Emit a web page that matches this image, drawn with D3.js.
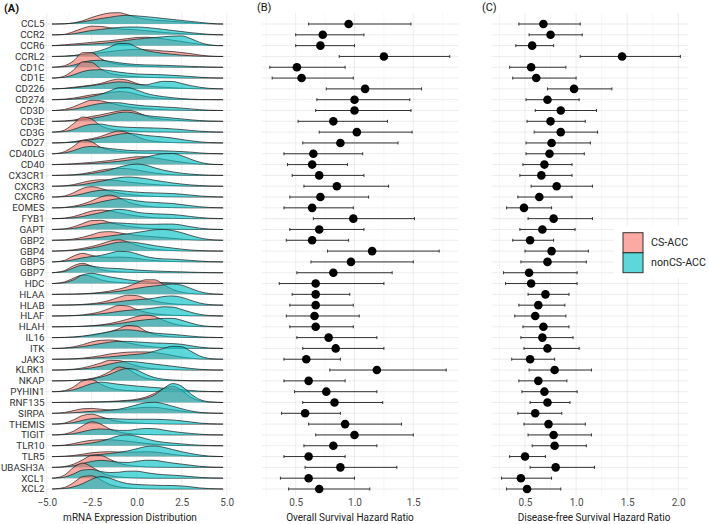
<!DOCTYPE html>
<html><head><meta charset="utf-8">
<script src="https://cdn.jsdelivr.net/npm/d3@7"></script>
<style>body{margin:0;background:#fff}svg{display:block}text{font-family:Roboto,"Liberation Sans",Arial,sans-serif}</style>
</head><body><svg id="chart" width="709" height="524"></svg>
<script>
const genes = ["CCL5","CCR2","CCR6","CCRL2","CD1C","CD1E","CD226","CD274","CD3D","CD3E","CD3G","CD27","CD40LG","CD40","CX3CR1","CXCR3","CXCR6","EOMES","FYB1","GAPT","GBP2","GBP4","GBP5","GBP7","HDC","HLAA","HLAB","HLAF","HLAH","IL16","ITK","JAK3","KLRK1","NKAP","PYHIN1","RNF135","SIRPA","THEMIS","TIGIT","TLR10","TLR5","UBASH3A","XCL1","XCL2"];
const groups = ["CS-ACC","nonCS-ACC"];
const groupColors = ["#F8766D","#00BFC4"];

const osHR   = [0.95,0.73,0.71,1.25,0.51,0.55,1.09,1.00,1.00,0.82,1.02,0.88,0.65,0.64,0.70,0.85,0.71,0.64,0.99,0.70,0.64,1.15,0.97,0.82,0.67,0.67,0.67,0.66,0.67,0.78,0.84,0.59,1.19,0.61,0.76,0.83,0.58,0.92,1.00,0.82,0.61,0.88,0.61,0.70];
const osLow  = [0.61,0.50,0.50,0.87,0.28,0.30,0.76,0.68,0.67,0.52,0.70,0.56,0.40,0.43,0.47,0.57,0.45,0.40,0.65,0.45,0.42,0.77,0.63,0.51,0.36,0.47,0.45,0.42,0.45,0.51,0.56,0.40,0.79,0.40,0.49,0.56,0.38,0.61,0.67,0.57,0.40,0.58,0.37,0.44];
const osHigh = [1.48,1.08,1.00,1.81,0.92,0.99,1.57,1.47,1.48,1.28,1.49,1.37,1.07,0.94,1.08,1.29,1.12,0.99,1.51,1.08,0.95,1.72,1.50,1.32,1.25,0.96,0.99,1.04,0.99,1.19,1.25,0.88,1.78,0.92,1.19,1.24,0.88,1.40,1.50,1.19,0.92,1.36,1.00,1.13];
const dfsHR   = [0.68,0.75,0.57,1.45,0.56,0.61,0.98,0.72,0.85,0.75,0.85,0.76,0.74,0.69,0.66,0.81,0.64,0.49,0.78,0.67,0.55,0.76,0.72,0.54,0.56,0.70,0.63,0.60,0.68,0.67,0.72,0.55,0.79,0.63,0.69,0.72,0.60,0.73,0.78,0.79,0.50,0.80,0.46,0.52];
const dfsLow  = [0.44,0.54,0.41,1.04,0.35,0.38,0.72,0.51,0.60,0.52,0.59,0.51,0.51,0.48,0.45,0.56,0.43,0.32,0.53,0.45,0.38,0.50,0.46,0.29,0.31,0.53,0.44,0.40,0.48,0.46,0.49,0.37,0.54,0.44,0.47,0.55,0.43,0.49,0.53,0.57,0.35,0.55,0.27,0.32];
const dfsHigh = [1.04,1.06,0.78,2.02,0.90,1.00,1.35,1.03,1.20,1.09,1.21,1.14,1.08,0.96,0.96,1.16,0.96,0.76,1.16,0.99,0.78,1.12,1.10,1.01,1.01,0.93,0.89,0.90,0.93,0.97,1.03,0.79,1.15,0.91,1.01,0.94,0.86,1.09,1.15,1.10,0.70,1.18,0.76,0.85];

const ridgeX = [-4.7,-4.5,-4,-3.5,-3,-2.5,-2,-1.5,-1,-0.5,0,0.5,1,1.5,2,2.5,3,3.5,4,4.5,4.8];
const csDensity = [
[0,0,0.02,0.1,0.3,0.6,0.85,1.02,1.05,0.85,0.6,0.45,0.35,0.3,0.25,0.18,0.12,0.06,0.02,0,0],
[0,0,0.05,0.3,0.6,0.8,0.78,0.65,0.55,0.5,0.45,0.38,0.3,0.22,0.15,0.1,0.06,0.03,0.01,0,0],
[0,0.02,0.08,0.15,0.22,0.3,0.38,0.45,0.55,0.65,0.75,0.78,0.72,0.62,0.5,0.38,0.25,0.12,0.04,0,0],
[0,0,0.02,0.08,0.15,0.25,0.35,0.45,0.55,0.62,0.65,0.62,0.58,0.5,0.45,0.36,0.26,0.13,0.04,0,0],
[0,0.02,0.15,0.6,1.35,1.35,0.8,0.45,0.3,0.2,0.12,0.08,0.05,0.03,0.02,0.01,0,0,0,0,0],
[0,0.02,0.2,0.75,1.5,1.45,0.85,0.45,0.28,0.18,0.12,0.08,0.05,0.03,0.02,0.01,0,0,0,0,0],
[0,0.01,0.05,0.15,0.25,0.35,0.5,0.75,0.9,0.8,0.5,0.3,0.2,0.15,0.1,0.06,0.03,0.01,0,0,0],
[0,0.01,0.05,0.15,0.3,0.45,0.55,0.65,0.75,0.7,0.5,0.3,0.18,0.1,0.06,0.03,0.01,0,0,0,0],
[0,0.01,0.1,0.35,0.7,0.95,0.9,0.7,0.5,0.35,0.25,0.18,0.12,0.08,0.05,0.03,0.01,0,0,0,0],
[0,0,0.03,0.12,0.28,0.45,0.6,0.78,0.95,1.02,0.85,0.5,0.3,0.2,0.12,0.07,0.03,0.01,0,0,0],
[0,0.02,0.2,0.8,1.4,1.2,0.6,0.3,0.18,0.12,0.08,0.05,0.03,0.02,0.01,0,0,0,0,0,0],
[0,0.01,0.04,0.12,0.25,0.4,0.6,0.9,1.1,0.95,0.6,0.3,0.15,0.08,0.04,0.02,0.01,0,0,0,0],
[0,0.02,0.2,0.7,1.25,1.1,0.6,0.35,0.22,0.15,0.1,0.07,0.05,0.03,0.02,0.01,0,0,0,0,0],
[0,0.01,0.04,0.08,0.14,0.2,0.28,0.38,0.5,0.62,0.72,0.72,0.62,0.48,0.35,0.22,0.12,0.05,0.02,0,0],
[0,0,0.02,0.06,0.15,0.3,0.48,0.6,0.65,0.62,0.5,0.35,0.22,0.12,0.06,0.03,0.01,0,0,0,0],
[0,0,0.04,0.15,0.35,0.52,0.6,0.58,0.5,0.4,0.3,0.22,0.15,0.1,0.06,0.03,0.01,0,0,0,0],
[0,0.01,0.1,0.4,0.8,0.95,0.8,0.55,0.38,0.25,0.16,0.1,0.06,0.03,0.02,0.01,0,0,0,0,0],
[0,0,0.04,0.15,0.35,0.65,1.0,1.18,0.95,0.55,0.3,0.16,0.08,0.04,0.02,0.01,0,0,0,0,0],
[0,0.01,0.05,0.2,0.45,0.7,0.8,0.72,0.55,0.38,0.25,0.15,0.09,0.05,0.03,0.01,0,0,0,0,0],
[0,0.01,0.06,0.25,0.55,0.82,0.85,0.65,0.45,0.3,0.2,0.12,0.07,0.04,0.02,0.01,0,0,0,0,0],
[0,0.01,0.04,0.12,0.28,0.5,0.75,0.8,0.7,0.55,0.45,0.38,0.32,0.25,0.18,0.1,0.05,0.02,0.01,0,0],
[0,0.01,0.04,0.12,0.25,0.42,0.65,0.92,1.05,0.85,0.55,0.32,0.18,0.1,0.05,0.02,0.01,0,0,0,0],
[0,0.02,0.15,0.55,0.79,0.6,0.45,0.42,0.45,0.42,0.32,0.2,0.12,0.07,0.04,0.02,0.01,0,0,0,0],
[0,0.03,0.2,0.65,0.87,0.6,0.3,0.15,0.08,0.05,0.03,0.02,0.01,0,0,0,0,0,0,0,0],
[0,0.02,0.15,0.5,0.78,0.65,0.35,0.18,0.1,0.05,0.03,0.01,0,0,0,0,0,0,0,0,0],
[0,0,0.01,0.02,0.05,0.1,0.18,0.3,0.48,0.72,1.05,1.35,1.35,0.9,0.45,0.2,0.08,0.03,0.01,0,0],
[0,0,0.01,0.03,0.07,0.14,0.25,0.45,0.72,0.92,0.88,0.62,0.38,0.22,0.12,0.06,0.03,0.01,0,0,0],
[0,0,0.01,0.04,0.1,0.22,0.4,0.7,0.98,0.92,0.6,0.35,0.2,0.12,0.07,0.04,0.02,0.01,0,0,0],
[0,0,0.01,0.02,0.05,0.1,0.18,0.3,0.48,0.7,0.95,1.08,0.95,0.6,0.3,0.12,0.05,0.02,0.01,0,0],
[0,0,0.01,0.04,0.1,0.2,0.35,0.55,0.82,1.12,1.05,0.6,0.3,0.14,0.07,0.03,0.01,0,0,0,0],
[0,0,0.04,0.15,0.35,0.6,0.75,0.78,0.7,0.52,0.35,0.22,0.13,0.07,0.04,0.02,0.01,0,0,0,0],
[0,0,0.01,0.04,0.1,0.2,0.32,0.48,0.58,0.65,0.68,0.68,0.62,0.5,0.35,0.2,0.09,0.03,0.01,0,0],
[0,0,0.02,0.08,0.2,0.4,0.65,0.9,0.88,0.65,0.4,0.22,0.12,0.06,0.03,0.01,0,0,0,0,0],
[0,0,0.01,0.04,0.1,0.22,0.45,0.85,1.28,1.1,0.6,0.25,0.1,0.04,0.02,0.01,0,0,0,0,0],
[0,0.01,0.1,0.45,1.0,1.12,0.7,0.35,0.18,0.1,0.06,0.03,0.02,0.01,0,0,0,0,0,0,0],
[0,0,0.01,0.02,0.03,0.05,0.07,0.1,0.14,0.2,0.3,0.5,0.85,1.3,1.5,1.1,0.5,0.15,0.04,0.01,0],
[0,0.01,0.08,0.25,0.42,0.45,0.38,0.32,0.32,0.38,0.48,0.55,0.55,0.45,0.32,0.2,0.1,0.04,0.01,0,0],
[0,0.01,0.1,0.4,0.8,0.92,0.7,0.42,0.25,0.15,0.1,0.06,0.04,0.02,0.01,0,0,0,0,0,0],
[0,0.01,0.08,0.35,0.85,1.22,1.0,0.55,0.28,0.14,0.07,0.04,0.02,0.01,0,0,0,0,0,0,0],
[0,0.01,0.06,0.2,0.38,0.5,0.55,0.55,0.5,0.42,0.32,0.22,0.14,0.08,0.04,0.02,0.01,0,0,0,0],
[0,0,0.03,0.1,0.22,0.35,0.42,0.45,0.42,0.4,0.42,0.45,0.42,0.32,0.2,0.1,0.04,0.01,0,0,0],
[0,0.01,0.08,0.3,0.7,1.1,1.1,0.75,0.4,0.2,0.1,0.05,0.02,0.01,0,0,0,0,0,0,0],
[0,0.03,0.3,1.0,1.4,1.05,0.55,0.25,0.12,0.06,0.03,0.01,0,0,0,0,0,0,0,0,0],
[0,0.02,0.15,0.6,1.15,1.22,0.85,0.42,0.2,0.1,0.05,0.02,0.01,0,0,0,0,0,0,0,0]
];
const nonCsDensity = [
[0,0,0.02,0.08,0.2,0.35,0.5,0.62,0.75,0.8,0.75,0.68,0.6,0.5,0.42,0.33,0.24,0.15,0.07,0.01,0],
[0,0,0.02,0.1,0.25,0.4,0.5,0.6,0.68,0.72,0.72,0.68,0.6,0.5,0.4,0.3,0.2,0.12,0.05,0.01,0],
[0,0,0.02,0.05,0.1,0.15,0.2,0.28,0.38,0.5,0.6,0.68,0.75,0.82,0.88,0.9,0.65,0.3,0.08,0.01,0],
[0,0,0.02,0.08,0.2,0.35,0.55,0.85,1.2,1.2,0.85,0.55,0.4,0.28,0.2,0.12,0.07,0.03,0.01,0,0],
[0,0.01,0.05,0.2,0.45,0.62,0.65,0.55,0.42,0.32,0.25,0.22,0.2,0.18,0.15,0.12,0.08,0.05,0.02,0,0],
[0,0.01,0.08,0.3,0.6,0.75,0.78,0.68,0.55,0.45,0.38,0.35,0.33,0.3,0.25,0.2,0.14,0.08,0.03,0.01,0],
[0,0.01,0.04,0.1,0.2,0.3,0.42,0.55,0.65,0.6,0.42,0.38,0.55,0.7,0.68,0.5,0.3,0.15,0.05,0.01,0],
[0,0,0.02,0.06,0.15,0.3,0.5,0.8,1.1,1.12,0.9,0.6,0.4,0.28,0.18,0.1,0.05,0.02,0.01,0,0],
[0,0,0.03,0.12,0.3,0.5,0.65,0.72,0.72,0.6,0.5,0.42,0.38,0.32,0.28,0.22,0.15,0.08,0.03,0.01,0],
[0,0,0.02,0.06,0.15,0.28,0.42,0.6,0.8,0.85,0.72,0.55,0.45,0.38,0.3,0.22,0.14,0.07,0.03,0.01,0],
[0,0.01,0.06,0.25,0.55,0.72,0.75,0.6,0.5,0.45,0.42,0.4,0.38,0.35,0.3,0.24,0.16,0.09,0.04,0.01,0],
[0,0,0.02,0.08,0.18,0.3,0.45,0.62,0.8,0.88,0.82,0.7,0.62,0.55,0.45,0.32,0.2,0.1,0.04,0.01,0],
[0,0.01,0.08,0.3,0.58,0.68,0.6,0.48,0.4,0.32,0.28,0.27,0.28,0.27,0.24,0.2,0.15,0.08,0.03,0.01,0],
[0,0,0.01,0.03,0.06,0.1,0.15,0.22,0.3,0.4,0.52,0.68,0.88,1.0,1.02,0.82,0.5,0.22,0.06,0.01,0],
[0,0,0.01,0.03,0.08,0.18,0.32,0.5,0.75,0.95,1.05,0.95,0.7,0.48,0.32,0.2,0.12,0.06,0.02,0,0],
[0,0,0.02,0.06,0.15,0.3,0.45,0.62,0.78,0.85,0.8,0.7,0.55,0.42,0.3,0.2,0.12,0.06,0.02,0,0],
[0,0,0.03,0.12,0.3,0.5,0.62,0.65,0.6,0.52,0.45,0.4,0.38,0.35,0.32,0.26,0.18,0.1,0.04,0.01,0],
[0,0,0.02,0.08,0.2,0.35,0.55,0.72,0.85,0.8,0.65,0.55,0.5,0.45,0.4,0.3,0.2,0.1,0.04,0.01,0],
[0,0,0.02,0.08,0.2,0.38,0.55,0.75,0.86,0.78,0.6,0.5,0.45,0.42,0.38,0.3,0.2,0.1,0.04,0.01,0],
[0,0,0.03,0.1,0.25,0.42,0.55,0.62,0.6,0.55,0.5,0.48,0.48,0.5,0.5,0.4,0.25,0.12,0.04,0.01,0],
[0,0,0.01,0.04,0.1,0.18,0.28,0.4,0.5,0.6,0.72,0.85,0.97,1.0,0.9,0.7,0.45,0.22,0.08,0.02,0],
[0,0,0.02,0.06,0.15,0.28,0.45,0.65,0.82,0.85,0.78,0.65,0.5,0.38,0.28,0.18,0.1,0.05,0.02,0,0],
[0,0.01,0.06,0.2,0.38,0.5,0.6,0.8,0.98,0.95,0.75,0.5,0.35,0.28,0.25,0.2,0.14,0.08,0.03,0.01,0],
[0,0.02,0.12,0.45,0.7,0.62,0.48,0.42,0.38,0.32,0.25,0.2,0.16,0.13,0.1,0.08,0.05,0.03,0.01,0,0],
[0,0.01,0.08,0.35,0.8,0.94,0.8,0.62,0.48,0.35,0.25,0.17,0.12,0.09,0.06,0.04,0.02,0.01,0,0,0],
[0,0,0.01,0.02,0.04,0.07,0.12,0.18,0.28,0.4,0.55,0.68,0.78,0.88,0.95,0.85,0.55,0.25,0.08,0.02,0],
[0,0,0.01,0.02,0.04,0.08,0.14,0.22,0.32,0.42,0.5,0.55,0.65,0.8,0.85,0.72,0.45,0.2,0.06,0.01,0],
[0,0,0.01,0.03,0.06,0.12,0.2,0.3,0.42,0.52,0.58,0.65,0.75,0.85,0.82,0.6,0.35,0.15,0.05,0.01,0],
[0,0,0.01,0.02,0.04,0.08,0.13,0.2,0.3,0.42,0.55,0.65,0.72,0.78,0.78,0.6,0.35,0.14,0.04,0.01,0],
[0,0,0.02,0.06,0.14,0.26,0.4,0.55,0.68,0.72,0.65,0.52,0.42,0.35,0.3,0.22,0.14,0.07,0.03,0.01,0],
[0,0,0.02,0.07,0.17,0.3,0.45,0.58,0.65,0.65,0.6,0.55,0.5,0.48,0.45,0.38,0.25,0.12,0.04,0.01,0],
[0,0,0.01,0.02,0.05,0.09,0.15,0.22,0.3,0.38,0.45,0.55,0.75,1.0,1.2,1.15,0.75,0.3,0.08,0.01,0],
[0,0,0.01,0.04,0.1,0.2,0.35,0.55,0.72,0.8,0.75,0.65,0.55,0.45,0.35,0.25,0.15,0.07,0.02,0,0],
[0,0,0.01,0.03,0.08,0.18,0.35,0.6,0.95,1.15,1.0,0.6,0.3,0.15,0.08,0.04,0.02,0.01,0,0,0],
[0,0,0.04,0.18,0.45,0.75,0.88,0.8,0.68,0.6,0.52,0.45,0.38,0.32,0.25,0.18,0.11,0.05,0.02,0,0],
[0,0,0.01,0.01,0.02,0.03,0.05,0.07,0.1,0.15,0.22,0.38,0.7,1.3,1.75,1.5,0.8,0.28,0.07,0.01,0],
[0,0,0.02,0.06,0.12,0.18,0.22,0.28,0.38,0.55,0.78,0.98,1.02,0.88,0.65,0.42,0.22,0.09,0.03,0.01,0],
[0,0,0.04,0.15,0.35,0.5,0.55,0.52,0.48,0.45,0.45,0.45,0.45,0.42,0.38,0.3,0.2,0.1,0.04,0.01,0],
[0,0,0.03,0.12,0.3,0.48,0.55,0.5,0.42,0.42,0.52,0.6,0.58,0.45,0.32,0.22,0.14,0.07,0.02,0,0],
[0,0,0.02,0.06,0.14,0.26,0.42,0.65,0.92,1.0,0.88,0.65,0.45,0.32,0.24,0.17,0.1,0.05,0.02,0,0],
[0,0,0.01,0.04,0.08,0.14,0.2,0.28,0.38,0.52,0.72,0.92,0.98,0.85,0.65,0.45,0.28,0.14,0.05,0.01,0],
[0,0,0.04,0.15,0.35,0.55,0.65,0.58,0.48,0.45,0.55,0.66,0.65,0.52,0.4,0.3,0.2,0.1,0.04,0.01,0],
[0,0.01,0.1,0.4,0.75,0.8,0.62,0.52,0.55,0.65,0.65,0.52,0.4,0.32,0.28,0.22,0.15,0.08,0.03,0.01,0],
[0,0.01,0.05,0.2,0.5,0.9,1.15,1.0,0.7,0.5,0.42,0.38,0.35,0.33,0.32,0.28,0.2,0.1,0.04,0.01,0]
];
const ticksA = [-5,-2.5,0,2.5,5], minorA = [-3.75,-1.25,1.25,3.75];
const ticksB = [0.5,1,1.5], minorB = [0.25,0.75,1.25,1.75];
const ticksC = [0.5,1,1.5,2], minorC = [0.25,0.75,1.25,1.75];

const svg = d3.select("#chart");
const plotTop = 13, plotBottom = 496;
const y = d3.scalePoint().domain(genes).range([24, 489]);
const step = y.step();
const xA = d3.scaleLinear().domain([-5,5]).range([46.7,226.7]);
const xB = d3.scaleLinear().domain([0.5,1.5]).range([295.7,413.3]);
const xC = d3.scaleLinear().domain([0.5,2]).range([525,678.3]);
const hS = d3.scaleLinear().domain([0,1]).range([0,step]);

function grid(x, x0, x1, major, minor) {
  const g = svg.append("g");
  g.selectAll(".mi").data(minor.filter(v => x(v) > x0 && x(v) < x1)).join("line")
    .attr("x1", d=>x(d)).attr("x2", d=>x(d)).attr("y1", plotTop).attr("y2", plotBottom)
    .attr("stroke", "#f1f1f1").attr("stroke-width", 0.6);
  g.selectAll(".hz").data(genes).join("line")
    .attr("x1", x0).attr("x2", x1).attr("y1", d=>y(d)).attr("y2", d=>y(d))
    .attr("stroke", "#e8e8e8").attr("stroke-width", 0.8);
  g.selectAll(".ma").data(major).join("line")
    .attr("x1", d=>x(d)).attr("x2", d=>x(d)).attr("y1", plotTop).attr("y2", plotBottom)
    .attr("stroke", "#e8e8e8").attr("stroke-width", 0.8);
}
grid(xA, 44, 231, ticksA, minorA);
grid(xB, 262, 458.3, ticksB, minorB);
grid(xC, 491.7, 688.3, ticksC, minorC);

// Panel A ridges
const ridges = svg.append("g");
genes.forEach((gname, i) => {
  const base = y(gname);
  [csDensity[i], nonCsDensity[i]].forEach((dens, k) => {
    const area = d3.area().x((d,j)=>xA(ridgeX[j])).y0(base).y1(d=>base - hS(d)).curve(d3.curveMonotoneX);
    const line = d3.line().x((d,j)=>xA(ridgeX[j])).y(d=>base - hS(d)).curve(d3.curveMonotoneX);
    ridges.append("path").attr("d", area(dens)).attr("fill", groupColors[k]).attr("fill-opacity", 0.63);
    ridges.append("path").attr("d", line(dens)).attr("fill", "none").attr("stroke", "#1a1a1a").attr("stroke-width", 0.7);
  });
});

// gene labels
svg.append("g").selectAll("text").data(genes).join("text")
  .attr("x", 44.5).attr("y", d=>y(d)).attr("dy", "0.35em").attr("text-anchor","end")
  .attr("font-size", 9.8).attr("fill", "#333").text(d=>d);

// forest panels
function forest(x, hr, lo, hi) {
  const g = svg.append("g");
  genes.forEach((gname, i) => {
    const yy = y(gname);
    g.append("line").attr("x1", x(lo[i])).attr("x2", x(hi[i])).attr("y1", yy).attr("y2", yy).attr("stroke", "#333").attr("stroke-width", 1);
    g.append("line").attr("x1", x(lo[i])).attr("x2", x(lo[i])).attr("y1", yy-1.5).attr("y2", yy+1.5).attr("stroke", "#333").attr("stroke-width", 1);
    g.append("line").attr("x1", x(hi[i])).attr("x2", x(hi[i])).attr("y1", yy-1.5).attr("y2", yy+1.5).attr("stroke", "#333").attr("stroke-width", 1);
    g.append("circle").attr("cx", x(hr[i])).attr("cy", yy).attr("r", 4.3).attr("fill", "#000");
  });
}
forest(xB, osHR, osLow, osHigh);
forest(xC, dfsHR, dfsLow, dfsHigh);

// axes
function axis(x, ticks, fmt, title, cx) {
  const g = svg.append("g").attr("transform", `translate(0,${plotBottom})`)
    .call(d3.axisBottom(x).tickValues(ticks).tickSize(0).tickPadding(2.5).tickFormat(fmt));
  g.select(".domain").remove();
  g.selectAll("text").attr("font-size", 10).attr("fill", "#4d4d4d").attr("font-family", "Roboto");
  svg.append("text").attr("x", cx).attr("y", 520.5).attr("text-anchor","middle")
    .attr("font-size", 10).attr("fill", "#222").text(title);
}
axis(xA, ticksA, d3.format(".1f"), "mRNA Expression Distribution", 130);
axis(xB, ticksB, d3.format(".1f"), "Overall Survival Hazard Ratio", 350);
axis(xC, ticksC, d3.format(".1f"), "Disease-free Survival Hazard Ratio", 594);

// panel tags
svg.append("text").attr("x", 4).attr("y", 12).attr("font-size", 11).attr("font-weight", "bold").attr("fill", "#111").text("(A)");
svg.append("text").attr("x", 257).attr("y", 11).attr("font-size", 11).attr("fill", "#111").text("(B)");
svg.append("text").attr("x", 482).attr("y", 11).attr("font-size", 11).attr("fill", "#111").text("(C)");

// legend
const leg = svg.append("g");
leg.append("rect").attr("x", 614).attr("y", 226).attr("width", 95).attr("height", 52).attr("fill", "#fff");
groups.forEach((gname, k) => {
  leg.append("rect").attr("x", 623).attr("y", 232.7 + k*20).attr("width", 20).attr("height", 20)
    .attr("fill", groupColors[k]).attr("fill-opacity", 0.63).attr("stroke", "#333").attr("stroke-width", 1);
  leg.append("text").attr("x", 651).attr("y", 242.7 + k*20).attr("dy", "0.35em")
    .attr("font-size", 10.7).attr("fill", "#222").text(gname);
});
</script></body></html>
